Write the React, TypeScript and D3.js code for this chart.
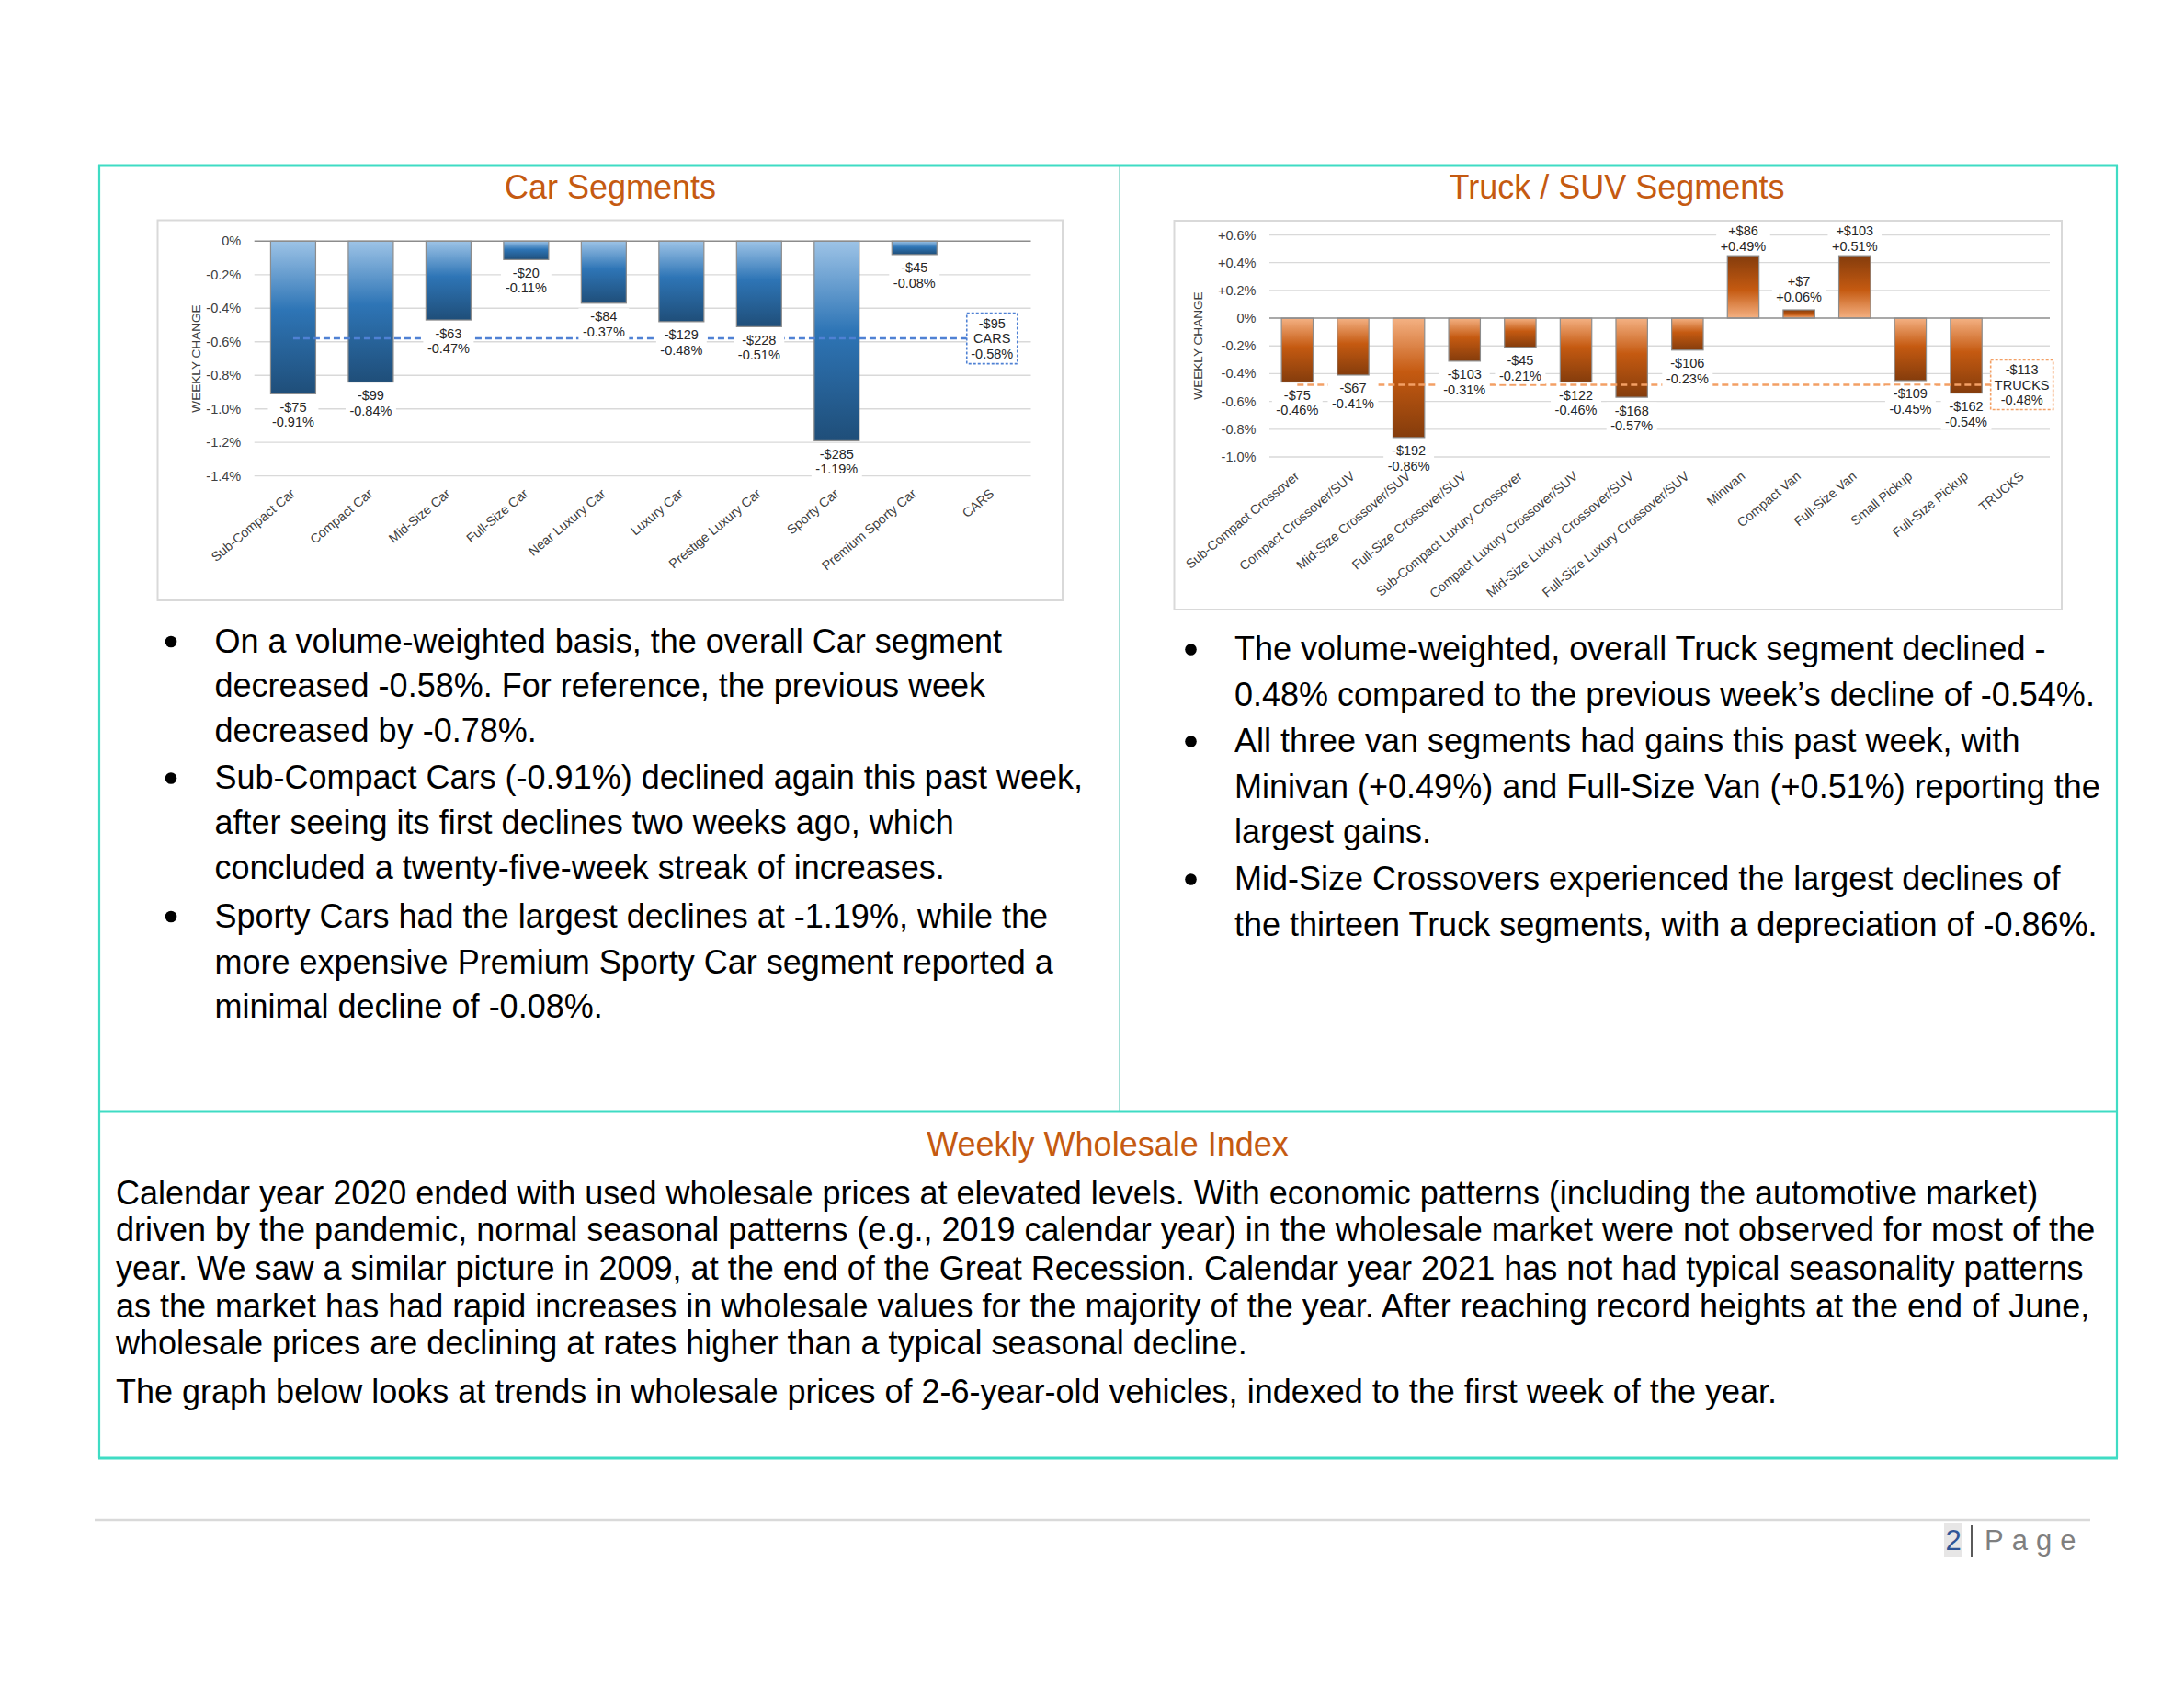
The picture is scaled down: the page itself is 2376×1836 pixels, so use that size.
import React from 'react';
import * as d3 from 'd3';

const FONT = "'Liberation Sans', Arial, Helvetica, sans-serif";

// ---------- Car segment data ----------
const carCategories = [
  'Sub-Compact Car', 'Compact Car', 'Mid-Size Car', 'Full-Size Car', 'Near Luxury Car',
  'Luxury Car', 'Prestige Luxury Car', 'Sporty Car', 'Premium Sporty Car', 'CARS',
];
const carPct = [-0.91, -0.84, -0.47, -0.11, -0.37, -0.48, -0.51, -1.19, -0.08];
const carDollars = [-75, -99, -63, -20, -84, -129, -228, -285, -45];
const carAvgPct = -0.58;
const carAvgDollars = -95;
const carTicks = [0, -0.2, -0.4, -0.6, -0.8, -1.0, -1.2, -1.4];

// ---------- Truck / SUV segment data ----------
const truckCategories = [
  'Sub-Compact Crossover', 'Compact Crossover/SUV', 'Mid-Size Crossover/SUV', 'Full-Size Crossover/SUV',
  'Sub-Compact Luxury Crossover', 'Compact Luxury Crossover/SUV', 'Mid-Size Luxury Crossover/SUV',
  'Full-Size Luxury Crossover/SUV', 'Minivan', 'Compact Van', 'Full-Size Van', 'Small Pickup',
  'Full-Size Pickup', 'TRUCKS',
];
const truckPct = [-0.46, -0.41, -0.86, -0.31, -0.21, -0.46, -0.57, -0.23, 0.49, 0.06, 0.51, -0.45, -0.54];
// bar heights as they are drawn in the picture
const truckBarPct = [-0.46, -0.41, -0.86, -0.31, -0.21, -0.46, -0.57, -0.23, 0.45, 0.06, 0.45, -0.45, -0.54];
const truckDollars = [-75, -67, -192, -103, -45, -122, -168, -106, 86, 7, 103, -109, -162];
const truckAvgPct = -0.48;
const truckAvgDollars = -113;
const truckTicks = [0.6, 0.4, 0.2, 0, -0.2, -0.4, -0.6, -0.8, -1.0];

// ---------- Text ----------
const carBullets = [
  ['On a volume-weighted basis, the overall Car segment', 'decreased -0.58%. For reference, the previous week', 'decreased by -0.78%.'],
  ['Sub-Compact Cars (-0.91%) declined again this past week,', 'after seeing its first declines two weeks ago, which', 'concluded a twenty-five-week streak of increases.'],
  ['Sporty Cars had the largest declines at -1.19%, while the', 'more expensive Premium Sporty Car segment reported a', 'minimal decline of -0.08%.'],
];
const carLineY = [697, 745.5, 794, 845.5, 894.5, 943, 996, 1046, 1094];
const truckBullets = [
  ['The volume-weighted, overall Truck segment declined -', '0.48% compared to the previous week\u2019s decline of -0.54%.'],
  ['All three van segments had gains this past week, with', 'Minivan (+0.49%) and Full-Size Van (+0.51%) reporting the', 'largest gains.'],
  ['Mid-Size Crossovers experienced the largest declines of', 'the thirteen Truck segments, with a depreciation of -0.86%.'],
];
const truckLineY = [705.5, 755, 805.5, 855, 904, 955.5, 1005];
const indexLines = [
  'Calendar year 2020 ended with used wholesale prices at elevated levels. With economic patterns (including the automotive market)',
  'driven by the pandemic, normal seasonal patterns (e.g., 2019 calendar year) in the wholesale market were not observed for most of the',
  'year. We saw a similar picture in 2009, at the end of the Great Recession. Calendar year 2021 has not had typical seasonality patterns',
  'as the market has had rapid increases in wholesale values for the majority of the year. After reaching record heights at the end of June,',
  'wholesale prices are declining at rates higher than a typical seasonal decline.',
  'The graph below looks at trends in wholesale prices of 2-6-year-old vehicles, indexed to the first week of the year.',
];
const indexLineY = [1297, 1337.5, 1379, 1420, 1460, 1513];

const CW: Record<string, number> = { '-': 0.333, '+': 0.584, '$': 0.556, '.': 0.278, '%': 0.889 };
const textW = (s: string, fs: number) =>
  s.split('').reduce((a, c) => a + (CW[c] ?? 0.556), 0) * fs;

const fmtDollar = (v: number) => `${v < 0 ? '-' : '+'}$${Math.abs(v)}`;
const fmtPct = (v: number) => `${v < 0 ? '-' : '+'}${Math.abs(v).toFixed(2)}%`;

type PanelProps = {
  id: string;
  categories: string[];
  barVals: number[];
  pctVals: number[];
  dollarVals: number[];
  avgPct: number;
  avgDollars: number;
  avgName: string;
  ticks: number[];
  tickFmt: (t: number) => string;
  xRange: [number, number];
  yDomain: [number, number];
  yRange: [number, number];
  pad: number;
  frame: [number, number, number, number];
  stops: string[];
  avgColor: string;
  boxW: number;
  boxH: number;
  xLabelDx: number;
  xLabelY: number;
  yTitle: [number, number];
  labelTop: number;
};

function Panel(p: PanelProps) {
  const x = d3.scaleBand<string>().domain(p.categories).range(p.xRange).paddingInner(p.pad).paddingOuter(p.pad / 2);
  const y = d3.scaleLinear().domain(p.yDomain).range(p.yRange);
  const y0 = y(0);
  const bw = x.bandwidth();
  const cx = (c: string) => (x(c) as number) + bw / 2;
  const lastCat = p.categories[p.categories.length - 1];
  const boxCx = cx(lastCat);
  const avgY = y(p.avgPct);
  const LS = 16.5;
  const fs = 14.5;

  const labels = p.barVals.map((v, i) => {
    const c = p.categories[i];
    let l1: number, l2: number;
    if (v < 0) {
      l1 = y(v) + 14.5;
      l2 = l1 + LS;
    } else {
      l2 = y(v) - 14.5;
      l1 = l2 - LS;
      if (l1 < p.labelTop) {
        l1 = p.labelTop;
        l2 = l1 + LS;
      }
    }
    const t1 = fmtDollar(p.dollarVals[i]);
    const t2 = fmtPct(p.pctVals[i]);
    const w = Math.max(textW(t1, fs), textW(t2, fs)) + 9;
    return { c, l1, l2, t1, t2, w, x: cx(c) };
  });

  return (
    <g>
      <defs>
        <linearGradient id={`${p.id}-neg`} x1="0" y1="0" x2="0" y2="1">
          <stop offset="0%" stopColor={p.stops[0]} />
          <stop offset="45%" stopColor={p.stops[1]} />
          <stop offset="100%" stopColor={p.stops[2]} />
        </linearGradient>
        <linearGradient id={`${p.id}-pos`} x1="0" y1="0" x2="0" y2="1">
          <stop offset="0%" stopColor={p.stops[2]} />
          <stop offset="55%" stopColor={p.stops[1]} />
          <stop offset="100%" stopColor={p.stops[0]} />
        </linearGradient>
      </defs>
      <rect x={p.frame[0]} y={p.frame[1]} width={p.frame[2] - p.frame[0]} height={p.frame[3] - p.frame[1]}
        fill="#fff" stroke="#D9D9D9" strokeWidth={2} />
      {p.ticks.filter((t) => t !== 0).map((t) => (
        <line key={`g${t}`} x1={p.xRange[0]} x2={p.xRange[1]} y1={y(t)} y2={y(t)} stroke="#D9D9D9" strokeWidth={1.3} />
      ))}
      {p.ticks.map((t) => (
        <text key={`t${t}`} x={p.xRange[0] - 14.5} y={y(t)} textAnchor="end" dominantBaseline="central"
          fontSize={fs} fill="#404040">{p.tickFmt(t)}</text>
      ))}
      <text transform={`translate(${p.yTitle[0]},${p.yTitle[1]}) rotate(-90)`} textAnchor="middle"
        dominantBaseline="central" fontSize={13.6} fill="#404040">WEEKLY CHANGE</text>
      {p.barVals.map((v, i) => {
        const c = p.categories[i];
        const yv = y(v);
        return (
          <rect key={`b${i}`} x={x(c)} y={Math.min(yv, y0)} width={bw} height={Math.abs(yv - y0)}
            fill={`url(#${p.id}-${v < 0 ? 'neg' : 'pos'})`} stroke="#8C8C8C" strokeWidth={1.2} />
        );
      })}
      <line x1={p.xRange[0]} x2={p.xRange[1]} y1={y0} y2={y0} stroke="#8C8C8C" strokeWidth={1.6} />
      <line x1={cx(p.categories[0])} x2={boxCx - p.boxW / 2} y1={avgY} y2={avgY}
        stroke={p.avgColor} strokeWidth={2.5} strokeDasharray="7 4" />
      {labels.map((l, i) => (
        <g key={`l${i}`}>
          <rect x={l.x - l.w / 2} y={l.l1 - 9} width={l.w} height={LS + 18} fill="#fff" />
          <text x={l.x} y={l.l1} textAnchor="middle" dominantBaseline="central" fontSize={fs} fill="#262626">{l.t1}</text>
          <text x={l.x} y={l.l2} textAnchor="middle" dominantBaseline="central" fontSize={fs} fill="#262626">{l.t2}</text>
        </g>
      ))}
      <rect x={boxCx - p.boxW / 2} y={avgY - p.boxH / 2} width={p.boxW} height={p.boxH} fill="#fff"
        stroke={p.avgColor} strokeWidth={1.6} strokeDasharray="3 2" />
      {[fmtDollar(p.avgDollars), p.avgName, fmtPct(p.avgPct)].map((t, k) => (
        <text key={`a${k}`} x={boxCx} y={avgY + (k - 1) * LS} textAnchor="middle" dominantBaseline="central"
          fontSize={fs} fill="#262626">{t}</text>
      ))}
      {p.categories.map((c) => (
        <text key={`x${c}`} transform={`translate(${cx(c) + p.xLabelDx},${p.xLabelY}) rotate(-40)`}
          textAnchor="end" fontSize={14.2} fill="#404040">{c}</text>
      ))}
    </g>
  );
}

export default function App() {
  const teal = '#3FDCC4';
  const orange = '#C55A11';
  const bodyFs = 36;
  const base = 12.5; // center -> baseline
  let ci = 0;
  let ti = 0;
  return (
    <div style={{ position: 'fixed', left: 0, top: 0 }}>
      <svg width={2376} height={1836} style={{ display: 'block', background: '#fff' }} fontFamily={FONT}>
        <rect width={2376} height={1836} fill="#fff" />

        {/* frame lines */}
        <line x1={1218} x2={1218} y1={180} y2={1209} stroke="#8FD9CD" strokeWidth={1.6} />
        <line x1={108} x2={108} y1={180} y2={1586} stroke={teal} strokeWidth={2.2} />
        <line x1={2303} x2={2303} y1={180} y2={1586} stroke={teal} strokeWidth={2.2} />
        <line x1={107} x2={2304} y1={180} y2={180} stroke={teal} strokeWidth={3} />
        <line x1={107} x2={2304} y1={1209} y2={1209} stroke={teal} strokeWidth={3} />
        <line x1={107} x2={2304} y1={1586} y2={1586} stroke={teal} strokeWidth={3} />

        {/* titles */}
        <text x={664} y={203 + base} textAnchor="middle" fontSize={bodyFs} fill={orange}>Car Segments</text>
        <text x={1759} y={203 + base} textAnchor="middle" fontSize={bodyFs} fill={orange}>Truck / SUV Segments</text>
        <text x={1205} y={1244 + base} textAnchor="middle" fontSize={bodyFs} fill={orange}>Weekly Wholesale Index</text>

        <Panel
          id="car" categories={carCategories} barVals={carPct} pctVals={carPct} dollarVals={carDollars}
          avgPct={carAvgPct} avgDollars={carAvgDollars} avgName="CARS" ticks={carTicks}
          tickFmt={(t) => (t === 0 ? '0%' : `${t.toFixed(1)}%`)}
          xRange={[276.7, 1121.5]} yDomain={[-1.4, 0]} yRange={[517.7, 262.3]} pad={0.42}
          frame={[171.5, 239.5, 1156, 653]} stops={['#9DC3E6', '#2E75B6', '#1F4E79']} avgColor="#4F81D4"
          boxW={55} boxH={55} xLabelDx={3} xLabelY={538.5} yTitle={[213.5, 390]} labelTop={0}
        />
        <Panel
          id="truck" categories={truckCategories} barVals={truckBarPct} pctVals={truckPct} dollarVals={truckDollars}
          avgPct={truckAvgPct} avgDollars={truckAvgDollars} avgName="TRUCKS" ticks={truckTicks}
          tickFmt={(t) => (t === 0 ? '0%' : `${t > 0 ? '+' : ''}${t.toFixed(1)}%`)}
          xRange={[1381, 2230]} yDomain={[-1.0, 0.6]} yRange={[497, 255.5]} pad={0.433}
          frame={[1277.5, 240, 2243, 663]} stops={['#F4B183', '#C55A11', '#843C0C']} avgColor="#F3A065"
          boxW={68} boxH={54} xLabelDx={3} xLabelY={519.5} yTitle={[1303.5, 376]} labelTop={251}
        />

        {/* car bullets */}
        {carBullets.map((b, bi) => (
          <g key={`cb${bi}`}>
            {b.map((line, li) => {
              const yy = carLineY[ci++];
              return (
                <g key={li}>
                  {li === 0 && <circle cx={186} cy={yy + 1} r={6.3} fill="#000" />}
                  <text x={233.5} y={yy + base} fontSize={bodyFs} fill="#000">{line}</text>
                </g>
              );
            })}
          </g>
        ))}

        {/* truck bullets */}
        {truckBullets.map((b, bi) => (
          <g key={`tb${bi}`}>
            {b.map((line, li) => {
              const yy = truckLineY[ti++];
              return (
                <g key={li}>
                  {li === 0 && <circle cx={1295.5} cy={yy + 1} r={6.3} fill="#000" />}
                  <text x={1343} y={yy + base} fontSize={bodyFs} fill="#000">{line}</text>
                </g>
              );
            })}
          </g>
        ))}

        {/* weekly wholesale index paragraph */}
        {indexLines.map((line, i) => (
          <text key={`p${i}`} x={126} y={indexLineY[i] + base} fontSize={bodyFs} fill="#000">{line}</text>
        ))}

        {/* footer */}
        <line x1={103} x2={2274} y1={1653} y2={1653} stroke="#D9D9D9" strokeWidth={2.5} />
        <rect x={2115} y={1657} width={20} height={36} fill="#E7E6E6" />
        <text x={2125} y={1675 + 11} textAnchor="middle" fontSize={31} fill="#2F5597">2</text>
        <line x1={2145} x2={2145} y1={1659} y2={1693} stroke="#000" strokeWidth={1.3} />
        <text x={2159} y={1675 + 11} fontSize={31} fill="#7F7F7F" letterSpacing={9}>Page</text>
      </svg>
    </div>
  );
}
